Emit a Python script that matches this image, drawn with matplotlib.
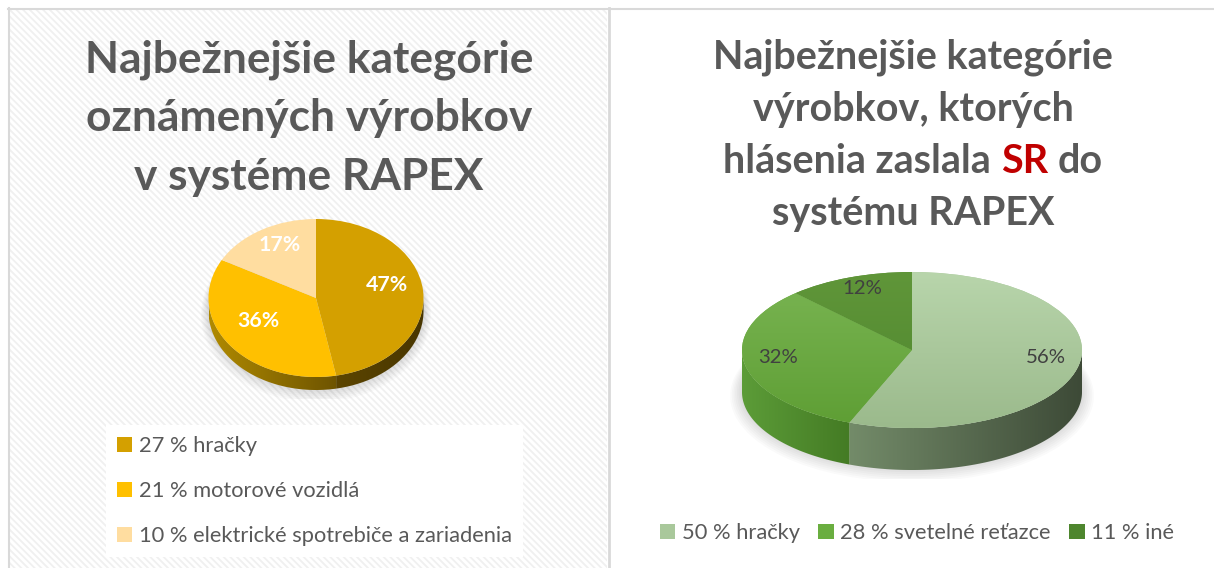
import numpy as np
import matplotlib
matplotlib.use("Agg")
import matplotlib.pyplot as plt
from matplotlib.patches import Rectangle, Polygon, Ellipse
from matplotlib.colors import LinearSegmentedColormap

# ---------------- data ----------------
left_title = ["Najbežnejšie kategórie", "oznámených výrobkov", "v systéme RAPEX"]
left_values = [47, 36, 17]
left_legend = ["27 % hračky", "21 % motorové vozidlá", "10 % elektrické spotrebiče a zariadenia"]
left_colors = ["#D4A000", "#FFC000", "#FFDDA0"]
left_side = [("#5C4500", "#483600"), ("#B08A00", "#6E5400"), ("#D0B070", "#B09050")]

right_title_lines = ["Najbežnejšie kategórie", "výrobkov, ktorých"]
right_title_line3 = ["hlásenia zaslala", "SR", "do"]
right_title_line4 = "systému RAPEX"
right_values = [56, 32, 12]
right_legend = ["50 % hračky", "28 % svetelné reťazce", "11 % iné"]
right_colors = ["#A9C89B", "#6AAE40", "#568C33"]
right_legend_colors = ["#A9C89B", "#6AAE40", "#4E862E"]
right_face = [("#B8D5AB", "#9BBA8C"), ("#7AB553", "#5E9E34"), ("#609639", "#4E862E")]
right_side = [("#738B69", "#3D4A37"), ("#5C9C38", "#447B24"), ("#4E822E", "#3E6C22")]

# ---------------- figure ----------------
W, H, DPI = 1214, 568, 100
FONT = "Lato"
GRAY = "#595959"
fig = plt.figure(figsize=(W / DPI, H / DPI), dpi=DPI)
fig.patch.set_facecolor("white")
renderer = fig.canvas.get_renderer()

bg = fig.add_axes([0, 0, 1, 1])
bg.set_xlim(0, W)
bg.set_ylim(H, 0)
bg.axis("off")

plt.rcParams["hatch.linewidth"] = 1.3
bg.add_patch(Rectangle((9, 9), 598, 560, facecolor="white", edgecolor="#F0F0F0",
                       hatch="\\\\\\\\\\", linewidth=0, zorder=0))
bg.plot([8, W], [8.5, 8.5], color="#D9D9D9", lw=1.5, zorder=1)
bg.plot([8.5, 8.5], [8, H], color="#D9D9D9", lw=1.5, zorder=1)
bg.plot([608.5, 608.5], [8, H], color="#D9D9D9", lw=2, zorder=1)


def text_width(s, size, weight):
    t = fig.text(0, 0, s, fontsize=size, fontweight=weight, family=FONT)
    w = t.get_window_extent(renderer).width
    t.remove()
    return w


def fit_size(s, target, weight):
    return 30 * target / text_width(s, 30, weight)


# ---------------- titles ----------------
ls = fit_size(left_title[0], 448, "bold")
for i, line in enumerate(left_title):
    bg.text(309, 72 + 59 * i, line, ha="center", va="baseline", fontsize=ls,
            fontweight="bold", color=GRAY, family=FONT, zorder=3)

rs = fit_size(right_title_lines[0], 400, "bold")
for i, line in enumerate(right_title_lines):
    bg.text(913, 69 + 52 * i, line, ha="center", va="baseline", fontsize=rs,
            fontweight="bold", color=GRAY, family=FONT, zorder=3)
full = " ".join(right_title_line3)
wf = text_width(full, rs, "bold")
parts_w = [text_width(p, rs, "bold") for p in right_title_line3]
sp = (wf - sum(parts_w)) / 2
x = 913 - wf / 2
for p, pw, col in zip(right_title_line3, parts_w, [GRAY, "#C00000", GRAY]):
    bg.text(x, 69 + 52 * 2, p, ha="left", va="baseline", fontsize=rs,
            fontweight="bold", color=col, family=FONT, zorder=3)
    x += pw + sp
bg.text(913, 69 + 52 * 3, right_title_line4, ha="center", va="baseline", fontsize=rs,
        fontweight="bold", color=GRAY, family=FONT, zorder=3)


# ---------------- 3D pies ----------------
def front_intervals(a, b):
    out = []
    for k in range(-3, 3):
        lo, hi = 180 + 360 * k, 360 + 360 * k
        s, e = max(a, lo), min(b, hi)
        if e > s:
            out.append((s, e))
    return out


def grad_img(ax, extent, c0, c1, horizontal, lo, hi, clip, z):
    n = 300
    cm = LinearSegmentedColormap.from_list("g", [c0, c1])
    if horizontal:
        xs = np.linspace(extent[0], extent[1], n)
        v = np.clip((xs - lo) / max(hi - lo, 1e-6), 0, 1)
        arr = cm(v)[None, :, :]
    else:
        ys = np.linspace(extent[3], extent[2], n)
        v = np.clip((hi - ys) / max(hi - lo, 1e-6), 0, 1)
        arr = cm(v)[:, None, :]
    im = ax.imshow(arr, extent=extent, aspect="auto", origin="upper",
                   interpolation="bilinear", zorder=z)
    im.set_clip_path(clip)
    return im


def draw_pie(cx, cy, rx, ry, depth, values, colors, sides, faces, pctd, dy, tkw):
    d = depth / ry
    pad = 0.12
    ax = fig.add_axes([(cx - rx * (1 + pad)) / W, 1 - (cy + ry + depth + ry * pad) / H,
                       2 * rx * (1 + pad) / W, (2 * ry + depth + 2 * ry * pad) / H])
    wedges, _, autos = ax.pie(values, colors=colors, startangle=90, counterclock=False,
                              radius=1, autopct="%.0f%%", pctdistance=pctd,
                              textprops=tkw, wedgeprops=dict(linewidth=0))
    # soft shadow below the pie
    for k in range(8):
        ax.add_patch(Ellipse((0, -d - 0.01 * k + 0.02), 2.0 + 0.02 * k, 2.0 + 0.03 * k,
                             facecolor="black", edgecolor="none", alpha=0.018, zorder=0.2))
    ext = [-1, 1, -1 - d, 1]
    for w, (c0, c1) in zip(wedges, sides):
        for a, b in front_intervals(w.theta1, w.theta2):
            t = np.radians(np.linspace(a, b, 120))
            top = np.c_[np.cos(t), np.sin(t)]
            bot = np.c_[np.cos(t[::-1]), np.sin(t[::-1]) - d]
            pts = np.vstack([top, bot])
            poly = Polygon(pts, closed=True, transform=ax.transData,
                           facecolor="none", edgecolor="none")
            ax.add_patch(poly)
            grad_img(ax, ext, c0, c1, True, pts[:, 0].min(), pts[:, 0].max(), poly, 0.5)
    if faces is not None:
        for w, (c0, c1) in zip(wedges, faces):
            grad_img(ax, ext, c0, c1, False, -1, 1, w, 1.5)
    for a in autos:
        a.set_zorder(3)
        px, py = a.get_position()
        a.set_position((px, py + dy))
    ax.set_aspect("auto")
    ax.set_xlim(-1 - pad, 1 + pad)
    ax.set_ylim(-1 - d - pad, 1 + pad)
    ax.axis("off")
    return ax


lbl_l = fit_size("47%", 42, "bold")
draw_pie(316, 298, 107.5, 79, 13, left_values, left_colors, left_side, None, 0.66, 0.1,
         dict(color="white", fontweight="bold", fontsize=lbl_l, family=FONT))
lbl_r = fit_size("56%", 40, "normal")
draw_pie(912, 350, 170, 78, 42, right_values, right_colors, right_side, right_face, 0.8, 0.05,
         dict(color="#404040", fontsize=lbl_r, family=FONT))

# ---------------- legends ----------------
lg = fit_size(left_legend[2], 374, "normal")
hl = [Rectangle((0, 0), 1, 1, facecolor=c, edgecolor="none") for c in left_colors]
leg1 = bg.legend(hl, left_legend, loc="upper left", bbox_to_anchor=(106, 425),
                 bbox_transform=bg.transData, frameon=True, fancybox=False,
                 facecolor="white", edgecolor="none", framealpha=1,
                 prop=dict(family=FONT, size=lg), labelcolor=GRAY,
                 handlelength=0.7, handleheight=0.7, handletextpad=0.3,
                 labelspacing=1.15, borderpad=0.5, borderaxespad=0)
leg1.get_frame().set_linewidth(0)
bg.add_artist(leg1)

hr = [Rectangle((0, 0), 1, 1, facecolor=c, edgecolor="none") for c in right_legend_colors]
leg2 = bg.legend(hr, right_legend, loc="center", bbox_to_anchor=(917, 533),
                 bbox_transform=bg.transData, frameon=False, ncol=3,
                 prop=dict(family=FONT, size=lg), labelcolor=GRAY,
                 handlelength=0.7, handleheight=0.7, handletextpad=0.3,
                 columnspacing=0.85, borderaxespad=0)

fig.savefig("out.png", dpi=DPI, facecolor="white")
